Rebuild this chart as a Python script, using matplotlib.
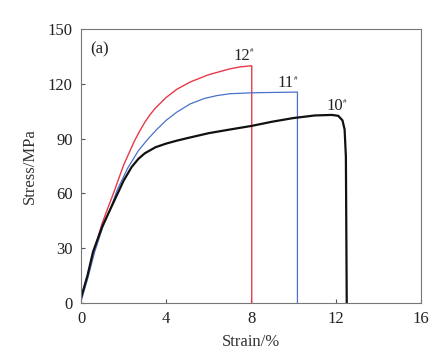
import numpy as np
import matplotlib.pyplot as plt

plt.rcParams['font.family'] = ['Liberation Serif', 'DejaVu Serif']

# stress-strain curves
strain_12 = [0, 0.3, 0.56, 1.0, 1.52, 2.0, 2.5, 2.75, 3.0, 3.25, 3.5, 4.0, 4.5, 5.13, 6.0, 7.0,
             7.5, 8.03, 8.03]
stress_12 = [3, 15, 27, 44, 60, 75.5, 88.5, 94, 99, 103.2, 106.8, 112.5, 117, 121, 125, 128.2,
             129.3, 129.9, 0]

strain_11 = [0, 0.3, 0.64, 1.0, 1.36, 1.7, 2.2, 2.7, 3.16, 3.6, 4.0, 4.5, 5.13, 5.8,
             6.4, 7.01, 8.03, 9.0, 10.18, 10.18]
stress_11 = [1, 13, 28, 41, 51, 62, 74, 83.5, 90, 95.5, 100, 104.5, 109, 112,
             113.6, 114.6, 115.1, 115.3, 115.5, 0]

strain_10 = [0, 0.3, 0.56, 1.0, 1.36, 1.7, 2.0, 2.38, 2.7, 3.0, 3.5, 4.0, 4.5, 5.0, 6.0,
             7.0, 8.03, 9.0, 10.0, 11.0, 11.8, 12.1, 12.3, 12.4, 12.46, 12.5]
stress_10 = [3, 15, 28, 42, 51, 59.5, 67, 74.5, 79, 82, 85.3, 87.3, 88.9, 90.3, 93,
             95, 97, 99.3, 101.3, 102.7, 103, 102.5, 100, 95, 80, 0]

labels = ['12#', '11#', '10#']
label_pos = [(7.95, 135.5), (10.0, 120.5), (12.34, 108)]

fig = plt.figure(figsize=(4.48, 3.63), dpi=100)
ax = fig.add_axes([0.181, 0.165, 0.759, 0.755])

ax.plot(strain_12, stress_12, color='#e8394a', lw=1.0)
ax.plot(strain_11, stress_11, color='#4a72c8', lw=0.9)
ax.plot(strain_10, stress_10, color='#111111', lw=1.6)

for lab, (x, y) in zip(labels, label_pos):
    ax.text(x, y, lab[:-1], fontsize=12, ha='right', va='center', color='#222222')
    ax.text(x, y + 2.5, lab[-1], fontsize=5, ha='left', va='center', color='#222222')

ax.text(0.85, 139, '(a)', fontsize=12, ha='center', va='center', color='#222222')

ax.set_xlim(0, 16)
ax.set_ylim(0, 150)
ax.set_xticks([0, 4, 8, 12, 16])
ax.set_yticks([0, 30, 60, 90, 120, 150])
ax.tick_params(direction='in', length=3, labelsize=12, colors='#555555', labelcolor='#222222', pad=6)
for s in ax.spines.values():
    s.set_color('#777777')
ax.set_xlabel('Strain/%', fontsize=12, color='#333333', labelpad=5)
ax.set_ylabel('Stress/MPa', fontsize=12, color='#333333', labelpad=7)

fig.savefig('out.png', dpi=100)
